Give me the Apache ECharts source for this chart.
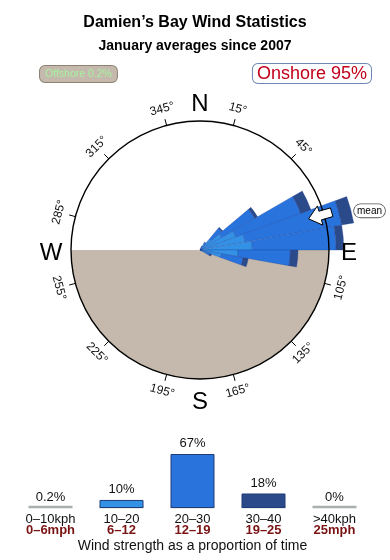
<!DOCTYPE html>
<html>
<head>
<meta charset="utf-8">
<script src="https://cdn.jsdelivr.net/npm/echarts@6/dist/echarts.min.js"></script>
<style>
html,body{margin:0;padding:0;background:#fff;}
#chart{width:390px;height:560px;}
</style>
</head>
<body>
<div id="chart"></div>
<script>
// ---------- DATA ----------
const titleText = 'Damien\u2019s Bay Wind Statistics';
const subtitleText = 'January averages since 2007';
const offshorePct = 0.2;
const onshorePct = 95;

// Wind rose: 36 direction bins of 10 degrees (bin start bearing)
const directionBins = ['0','10','20','30','40','50','60','70','80','90','100','110','120','130','140','150','160','170',
  '180','190','200','210','220','230','240','250','260','270','280','290','300','310','320','330','340','350'];
// radial length per speed band (circle = 10)
const rose0to10  = [0,0,0,0,0,0,0,0,0.6,0,0,0,0,0,0,0,0,0,0,0,0,0,0,0,0,0,0,0,0,0,0,0,0,0,0,0];
const rose10to20 = [0,0,0.3,0.55,1.1,1.95,2.95,3.55,3.45,2.95,1.7,0.55,0,0,0,0,0,0,0,0,0,0,0,0,0,0,0,0,0,0,0,0,0,0,0,0];
const rose20to30 = [0,0,0,0.15,1.1,2.95,5.35,7.6,6.5,4.05,1.7,0.25,0,0,0,0,0,0,0,0,0,0,0,0,0,0,0,0,0,0,0,0,0,0,0,0];
const rose30to40 = [0,0,0,0,0.1,0.25,0.85,0.95,0.6,0.6,0.4,0.15,0,0,0,0,0,0,0,0,0,0,0,0,0,0,0,0,0,0,0,0,0,0,0,0];
const CIRCLE = 10;
const meanDirection = 74;

const angleTicks = [15,45,75,105,135,165,195,225,255,285,315,345];
const compassLetters = ['N','E','S','W'];
const compassBearings = [0,90,180,270];

// Speed histogram
const kphLabels = ['0\u201310kph','10\u201320','20\u201330','30\u201340','>40kph'];
const mphLabels = ['0\u20136mph','6\u201312','12\u201319','19\u201325','25mph'];
const speedPct = [0.2,10,67,18,0];
const axisTitle = 'Wind strength as a proportion of time';

// ---------- STYLE ----------
const FONT = '"Liberation Sans", Arial, Helvetica, sans-serif';
const LAND = '#c4b9ac';
const C_CALM = '#45c6ea';
const C_LIGHT = '#3391e6';
const C_MID = '#2874dc';
const C_DARK = '#2b4a8a';
const C_GREY = '#a9b0b0';
const speedColors = [C_GREY, C_LIGHT, C_MID, C_DARK, C_GREY];
const CX = 200, CY = 250, R0 = 129, R1 = 170;
const ROSE_MAX = CIRCLE * R1 / R0;
const BAR_W = 44;

const chart = echarts.init(document.getElementById('chart'), null, {renderer:'canvas'});

function pt(api, rFrac, bearing){ return api.coord([CIRCLE * rFrac, bearing]); }

function roseSeries(name, data, color, z){
  return {
    name, type:'bar', coordinateSystem:'polar', polarIndex:1, stack:'rose',
    data, barCategoryGap:'0%', clip:false, z,
    itemStyle:{color, borderColor:'rgba(25,60,150,0.55)', borderWidth:0.5},
    silent:true
  };
}

const option = {
  animation:false,
  textStyle:{fontFamily:FONT},
  title:{
    text:titleText, subtext:subtitleText, left:'center', top:10, itemGap:8,
    textStyle:{fontFamily:FONT, fontSize:16, fontWeight:'bold', color:'#000'},
    subtextStyle:{fontFamily:FONT, fontSize:14, fontWeight:'bold', color:'#000'}
  },
  graphic:[
    {type:'text', left:39, top:65, z:10,
     style:{text:'Offshore ' + offshorePct + '%', fontFamily:FONT, fontSize:10.5, fill:'#a6f2a0',
       backgroundColor:LAND, borderColor:'#8c8272', borderWidth:1, borderRadius:5, padding:[3,5,2,5]}},
    {type:'text', right:18, top:63, z:10,
     style:{text:'Onshore ' + onshorePct + '%', fontFamily:FONT, fontSize:18, fill:'#c2001a',
       backgroundColor:'#fff', borderColor:'#6d88b2', borderWidth:1, borderRadius:5, padding:[1,4,0,4]}}
  ],
  polar:[
    {center:[CX,CY], radius:R0},
    {center:[CX,CY], radius:R1}
  ],
  angleAxis:[
    {polarIndex:0, type:'value', min:0, max:360, startAngle:90, clockwise:true, show:false},
    {polarIndex:1, type:'category', data:directionBins, startAngle:90, clockwise:true, show:false}
  ],
  radiusAxis:[
    {polarIndex:0, type:'value', min:0, max:CIRCLE, show:false},
    {polarIndex:1, type:'value', min:0, max:ROSE_MAX, show:false}
  ],
  grid:{left:15, right:20, top:454, bottom:52},
  xAxis:{
    type:'category', data:kphLabels,
    axisLine:{show:false}, axisTick:{show:false},
    axisLabel:{
      margin:6, interval:0,
      formatter:(v, i) => '{k|' + kphLabels[i] + '}\n{m|' + mphLabels[i] + '}',
      rich:{
        k:{fontFamily:FONT, fontSize:13, color:'#111', lineHeight:11},
        m:{fontFamily:FONT, fontSize:13, fontWeight:'bold', color:'#7a1414', lineHeight:11}
      }
    },
    name:axisTitle, nameLocation:'middle', nameGap:31,
    nameTextStyle:{fontFamily:FONT, fontSize:14, color:'#111'}
  },
  yAxis:{type:'value', min:0, max:67, show:false},
  series:[
    // land half-disc
    {type:'custom', coordinateSystem:'polar', polarIndex:0, z:1, silent:true,
     data:[[0,0]],
     renderItem:(p, api) => {
       const c = api.coord([0,0]);
       const e = api.coord([CIRCLE,90]);
       const r = Math.hypot(e[0]-c[0], e[1]-c[1]);
       return {type:'sector', shape:{cx:c[0], cy:c[1], r0:0, r, startAngle:0, endAngle:Math.PI, clockwise:true},
               style:{fill:LAND}};
     }},
    // angle ticks and labels
    {type:'custom', coordinateSystem:'polar', polarIndex:0, z:2, silent:true,
     data:angleTicks.map(a => [CIRCLE, a]),
     renderItem:(p, api) => {
       const a = api.value(1);
       const t1 = pt(api, 1.0, a), t2 = pt(api, 1.05, a), tl = pt(api, 146/129, a);
       let rc = a; if (rc > 270) rc -= 360; else if (rc > 90) rc -= 180;
       return {type:'group', children:[
         {type:'line', shape:{x1:t1[0], y1:t1[1], x2:t2[0], y2:t2[1]}, style:{stroke:'#000', lineWidth:1}},
         {type:'text', x:tl[0], y:tl[1], rotation:-rc*Math.PI/180,
          style:{text:a + '\u00b0', fontFamily:FONT, fontSize:12, fill:'#111', align:'center', verticalAlign:'middle'}}
       ]};
     }},
    roseSeries('0-10', rose0to10, C_CALM, 3),
    roseSeries('10-20', rose10to20, C_LIGHT, 3),
    roseSeries('20-30', rose20to30, C_MID, 3),
    roseSeries('30-40', rose30to40, C_DARK, 3),
    // circle outline
    {type:'custom', coordinateSystem:'polar', polarIndex:0, z:4, silent:true,
     data:[[0,0]],
     renderItem:(p, api) => {
       const c = api.coord([0,0]);
       const e = api.coord([CIRCLE,0]);
       const r = Math.hypot(e[0]-c[0], e[1]-c[1]);
       return {type:'circle', shape:{cx:c[0], cy:c[1], r}, style:{fill:'none', stroke:'#000', lineWidth:1.4}};
     }},
    // compass letters
    {type:'custom', coordinateSystem:'polar', polarIndex:0, z:5, silent:true,
     data:compassBearings.map(b => [CIRCLE, b]),
     renderItem:(p, api) => {
       const b = api.value(1);
       const q = pt(api, 149/129, b);
       return {type:'text', x:q[0], y:q[1] + 3,
         style:{text:compassLetters[p.dataIndex], fontFamily:FONT, fontSize:24, fill:'#000', align:'center', verticalAlign:'middle'}};
     }},
    // mean arrow + label
    {type:'custom', coordinateSystem:'polar', polarIndex:0, z:6, silent:true,
     data:[[CIRCLE, meanDirection]],
     renderItem:(p, api) => {
       const b = api.value(1);
       const c = api.coord([0,0]);
       const th = b*Math.PI/180;
       const ux = Math.sin(th), uy = -Math.cos(th);
       const vx = -uy, vy = ux;
       const at = (r, w) => [c[0] + ux*r + vx*w, c[1] + uy*r + vy*w];
       const pts = [at(113,0), at(125,10), at(125,4.5), at(137,4.5), at(137,-4.5), at(125,-4.5), at(125,-10)];
       const lp = pt(api, 174/129, b+3);
       return {type:'group', children:[
         {type:'polygon', shape:{points:pts}, style:{fill:'#fff', stroke:'#000', lineWidth:1}},
         {type:'text', x:lp[0], y:lp[1],
          style:{text:'mean', fontFamily:FONT, fontSize:10, fill:'#000', align:'center', verticalAlign:'middle',
            backgroundColor:'#fff', borderColor:'#555', borderWidth:0.8, borderRadius:7, padding:[2,3,1,3]}}
       ]};
     }},
    // grey baseline tracks under speed bars
    {type:'custom', z:1, silent:true,
     data:speedPct.map((v,i) => [i, 0]),
     renderItem:(p, api) => {
       const q = api.coord([api.value(0), 0]);
       return {type:'line', shape:{x1:q[0]-BAR_W/2, y1:q[1]-1, x2:q[0]+BAR_W/2, y2:q[1]-1},
               style:{stroke:C_GREY, lineWidth:2.5}};
     }},
    // speed bars
    {type:'bar', z:2, barWidth:BAR_W, silent:true,
     data:speedPct.map((v,i) => ({value:v, itemStyle:{color:speedColors[i], borderColor: i===0||i===4 ? C_GREY : '#1f3c78', borderWidth: i===0||i===4 ? 0 : 1}})),
     label:{show:true, position:'top', distance:4, formatter:'{c}%', fontFamily:FONT, fontSize:13, color:'#111'}}
  ]
};
chart.setOption(option);
</script>
</body>
</html>
